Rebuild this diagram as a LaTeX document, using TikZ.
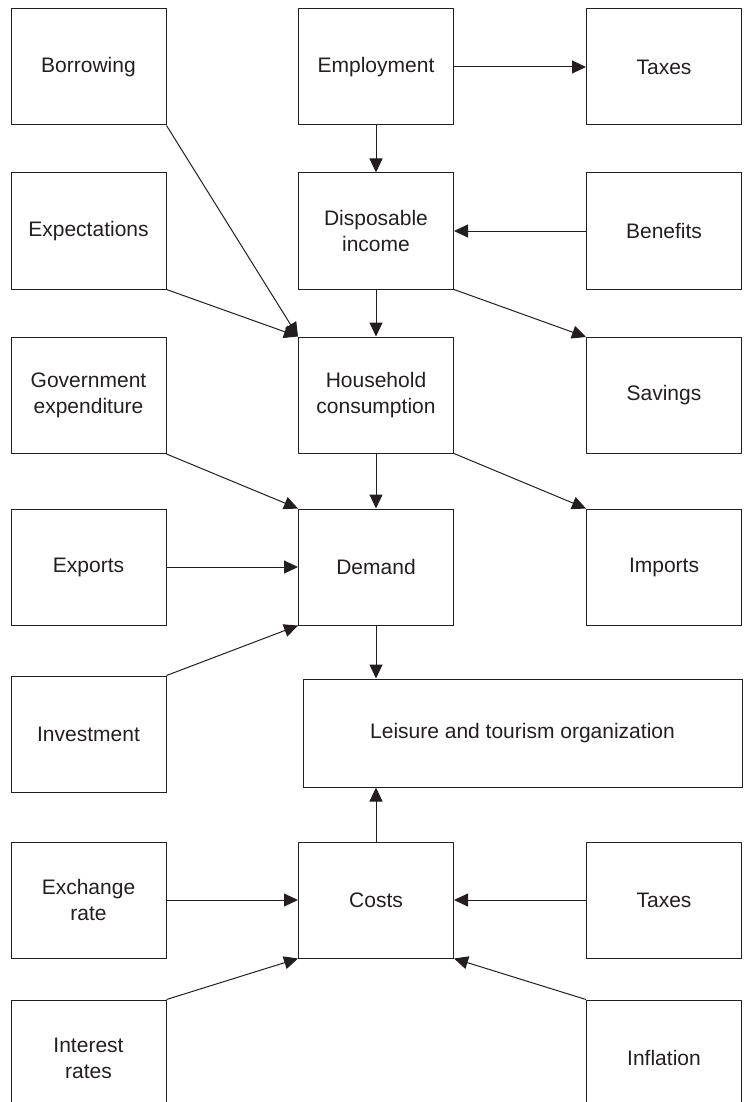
\documentclass[tikz,border=0pt]{standalone}
\usepackage{fontspec}
\setmainfont{Liberation Sans}
\usetikzlibrary{arrows.meta}
\definecolor{ink}{HTML}{231F20}
\begin{document}
\begin{tikzpicture}[x=1pt,y=-1pt,
 box/.style={draw=ink, line width=1pt, minimum width=155pt, minimum height=116pt, inner sep=0pt, align=center, font=\fontsize{21}{26}\selectfont, text=ink},
 arr/.style={draw=ink, line width=1pt, -{Triangle[length=14pt,width=13pt]}}]
\useasboundingbox (0,0) rectangle (746,1102);
\clip (0,0) rectangle (746,1102);
% left column
\node[box] (borrow) at (88.5,67) {Borrowing};
\node[box] (expect) at (88.5,231) {Expectations};
\node[box] (gov) at (88.5,395.5) {Government\\expenditure};
\node[box] (exports) at (88.5,567) {Exports};
\node[box] (invest) at (88.5,734) {Investment};
\node[box] (exch) at (88.5,900) {Exchange\\rate};
\node[box] (interest) at (88.5,1058) {Interest\\rates};
% middle column
\node[box] (employ) at (376,67) {Employment};
\node[box] (dispo) at (376,231) {Disposable\\income};
\node[box] (house) at (376,395) {Household\\consumption};
\node[box] (demand) at (376,567) {Demand};
\node[box, minimum width=439pt, minimum height=108pt] (leisure) at (522.5,733) {Leisure and tourism organization};
\node[box] (costs) at (376,900) {Costs};
% right column
\node[box] (taxes1) at (664,67) {Taxes};
\node[box] (benefits) at (664,231) {Benefits};
\node[box] (savings) at (664,395.5) {Savings};
\node[box] (imports) at (664,567) {Imports};
\node[box] (taxes2) at (664,900) {Taxes};
\node[box] (inflation) at (664,1058) {Inflation};
% connectors
\draw[arr] (employ.east) -- (taxes1.west);
\draw[arr] (employ.south) -- (dispo.north);
\draw[arr] (benefits.west) -- (dispo.east);
\draw[arr] (borrow.south east) -- (house.north west);
\draw[arr] (expect.south east) -- (house.north west);
\draw[arr] (dispo.south) -- (house.north);
\draw[arr] (dispo.south east) -- (savings.north west);
\draw[arr] (gov.south east) -- (demand.north west);
\draw[arr] (house.south) -- (demand.north);
\draw[arr] (house.south east) -- (imports.north west);
\draw[arr] (exports.east) -- (demand.west);
\draw[arr] (invest.north east) -- (demand.south west);
\draw[arr] (demand.south) -- (demand.south |- leisure.north);
\draw[arr] (costs.north) -- (costs.north |- leisure.south);
\draw[arr] (exch.east) -- (costs.west);
\draw[arr] (taxes2.west) -- (costs.east);
\draw[arr] (interest.north east) -- (costs.south west);
\draw[arr] (inflation.north west) -- (costs.south east);
\end{tikzpicture}
\end{document}
